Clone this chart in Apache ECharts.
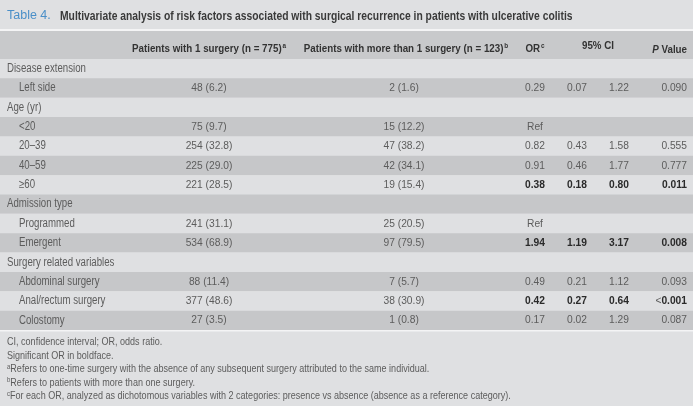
<!DOCTYPE html>
<html><head><meta charset="utf-8">
<script src="https://cdn.jsdelivr.net/npm/echarts@6/dist/echarts.min.js"></script>
<style>html,body{margin:0;padding:0;background:#dfe0e2}#c{width:693px;height:406px}</style>
</head><body><div id="c"></div>
<script>
// ---- data ----
const rowLabels = ['Disease extension','Left side','Age (yr)','<20','20–39','40–59','≥60','Admission type','Programmed','Emergent','Surgery related variables','Abdominal surgery','Anal/rectum surgery','Colostomy'];
const isGroup = [1,0,1,0,0,0,0,1,0,0,1,0,0,0];
const oneSurgery = ['','48 (6.2)','','75 (9.7)','254 (32.8)','225 (29.0)','221 (28.5)','','241 (31.1)','534 (68.9)','','88 (11.4)','377 (48.6)','27 (3.5)'];
const moreSurgery = ['','2 (1.6)','','15 (12.2)','47 (38.2)','42 (34.1)','19 (15.4)','','25 (20.5)','97 (79.5)','','7 (5.7)','38 (30.9)','1 (0.8)'];
const orValues = ['','0.29','','Ref','0.82','0.91','0.38','','Ref','1.94','','0.49','0.42','0.17'];
const ciLow = ['','0.07','','','0.43','0.46','0.18','','','1.19','','0.21','0.27','0.02'];
const ciHigh = ['','1.22','','','1.58','1.77','0.80','','','3.17','','1.12','0.64','1.29'];
const pValues = ['','0.090','','','0.555','0.777','0.011','','','0.008','','0.093','<0.001','0.087'];
const significant = [0,0,0,0,0,0,1,0,0,1,0,0,1,0];
const titleLabel = 'Table 4.';
const titleText = 'Multivariate analysis of risk factors associated with surgical recurrence in patients with ulcerative colitis';
const headers = [
  {text: 'Patients with 1 surgery (n = 775)', sup: 'a'},
  {text: 'Patients with more than 1 surgery (n = 123)', sup: 'b'},
  {text: 'OR', sup: 'c'},
  {text: '95% CI', sup: ''},
  {text: 'Value', italic: 'P'}
];
const footnotes = [
  {sup: '', text: 'CI, confidence interval; OR, odds ratio.'},
  {sup: '', text: 'Significant OR in boldface.'},
  {sup: 'a', text: 'Refers to one-time surgery with the absence of any subsequent surgery attributed to the same individual.'},
  {sup: 'b', text: 'Refers to patients with more than one surgery.'},
  {sup: 'c', text: 'For each OR, analyzed as dichotomous variables with 2 categories: presence vs absence (absence as a reference category).'}
];

// ---- layout / style ----
const W = 693;
const FONT = '"Liberation Sans",Arial,sans-serif';
const LIGHT = '#dfe0e2', DARK = '#c6c7c9', HEAD = '#c8c9cb';
const TXT = '#5c5c5c', BOLD = '#2a2a2a', HTXT = '#333333';
const col = {label: 7, indent: 19, one: 209, more: 404, or: 535, lo: 577, hi: 619, p: 687};
const BODY = 11.5, LABEL = 12;
const SX_LABEL = 0.805, SX_NUM = 0.89;

function cellText(text, x, y, align, bold, sx, size) {
  return {type: 'text', x: x, y: y, scaleX: sx, style: {text: text, x: 0, y: 0, align: align, verticalAlign: 'middle',
    fontFamily: FONT, fontSize: size || BODY, fontWeight: bold ? 'bold' : 'normal', fill: bold ? BOLD : TXT}};
}

function renderItem(params, api) {
  const i = api.value(1);
  const c = api.coord([0, i]);
  const bh = api.size([0, 1])[1];
  const cy = c[1];
  const b = !!significant[i];
  const kids = [
    {type: 'rect', shape: {x: 0, y: cy - bh / 2, width: W, height: bh}, style: {fill: i % 2 ? DARK : LIGHT}},
    cellText(rowLabels[i], isGroup[i] ? col.label : col.indent, cy, 'left', false, SX_LABEL, LABEL),
    cellText(oneSurgery[i], api.coord([col.one, i])[0], cy, 'center', false, SX_NUM),
    cellText(moreSurgery[i], api.coord([col.more, i])[0], cy, 'center', false, SX_NUM),
    cellText(orValues[i], api.coord([col.or, i])[0], cy, 'center', b, SX_NUM),
    cellText(ciLow[i], api.coord([col.lo, i])[0], cy, 'center', b, SX_NUM),
    cellText(ciHigh[i], api.coord([col.hi, i])[0], cy, 'center', b, SX_NUM)
  ];
  const pv = pValues[i];
  if (pv.charAt(0) === '<') {
    kids.push({type: 'text', x: api.coord([col.p, i])[0], y: cy, scaleX: SX_NUM,
      style: {text: '{n|<}{b|' + pv.slice(1) + '}', x: 0, y: 0,
      align: 'right', verticalAlign: 'middle', fontFamily: FONT, fontSize: BODY,
      rich: {n: {fontFamily: FONT, fontSize: BODY, fill: TXT}, b: {fontFamily: FONT, fontSize: BODY, fontWeight: 'bold', fill: BOLD}}}});
  } else {
    kids.push(cellText(pv, api.coord([col.p, i])[0], cy, 'right', b, SX_NUM));
  }
  return {type: 'group', children: kids};
}

const supRich = {
  h: {fontFamily: FONT, fontSize: 11.5, fontWeight: 'bold', fill: HTXT},
  s: {fontFamily: FONT, fontSize: 7.5, fontWeight: 'bold', fill: HTXT, padding: [0, 0, 6, 1]},
  i: {fontFamily: FONT, fontSize: 11.5, fontWeight: 'bold', fontStyle: 'italic', fill: HTXT}
};
function headerText(h, x, y, align) {
  let t = '';
  if (h.italic) t += '{i|' + h.italic + '}{h| ' + h.text + '}';
  else t += '{h|' + h.text + '}';
  if (h.sup) t += '{s|' + h.sup + '}';
  return {type: 'text', x: x, y: y, scaleX: 0.85, style: {text: t, align: align, verticalAlign: 'middle', rich: supRich}};
}

const graphics = [
  {type: 'text', x: 7, y: 16, style: {text: titleLabel, verticalAlign: 'middle',
    fontFamily: FONT, fontSize: 12.5, fontWeight: 'normal', fill: '#4a8fc8'}},
  {type: 'text', x: 60, y: 16, scaleX: 0.765, style: {text: titleText, verticalAlign: 'middle',
    fontFamily: FONT, fontSize: 13.5, fontWeight: 'bold', fill: '#3a3a3a'}},
  {type: 'rect', shape: {x: 0, y: 29, width: W, height: 2}, style: {fill: '#f4f4f5'}},
  {type: 'rect', shape: {x: 0, y: 31, width: W, height: 28}, style: {fill: HEAD}},
  {type: 'rect', shape: {x: 0, y: 330, width: W, height: 1.5}, style: {fill: '#f4f4f5'}, z: 10},
  headerText(headers[0], col.one, 49, 'center'),
  headerText(headers[1], col.more + 2, 49, 'center'),
  headerText(headers[2], col.or, 49, 'center'),
  headerText(headers[3], (col.lo + col.hi) / 2, 46, 'center'),
  headerText(headers[4], col.p, 50, 'right')
];
footnotes.forEach(function (f, k) {
  graphics.push({type: 'text', x: 7, y: 342 + k * 13.5, scaleX: 0.8, style: {
    text: (f.sup ? '{s|' + f.sup + '}' : '') + '{t|' + f.text + '}', verticalAlign: 'middle',
    rich: {t: {fontFamily: FONT, fontSize: 11.3, fill: TXT}, s: {fontFamily: FONT, fontSize: 7.5, fill: TXT, padding: [0, 0, 5, 0]}}}});
});

const chart = echarts.init(document.getElementById('c'), null, {renderer: 'canvas'});
chart.setOption({
  backgroundColor: LIGHT,
  animation: false,
  grid: {left: 0, right: 0, top: 59, bottom: 76, containLabel: false},
  xAxis: {type: 'value', min: 0, max: W, show: false},
  yAxis: {type: 'category', data: rowLabels, inverse: true, show: false},
  series: [{type: 'custom', renderItem: renderItem, clip: false, silent: true,
    encode: {x: 0, y: 1},
    data: rowLabels.map(function (_, i) { return [0, i]; })}],
  graphic: graphics
});
</script></body></html>
